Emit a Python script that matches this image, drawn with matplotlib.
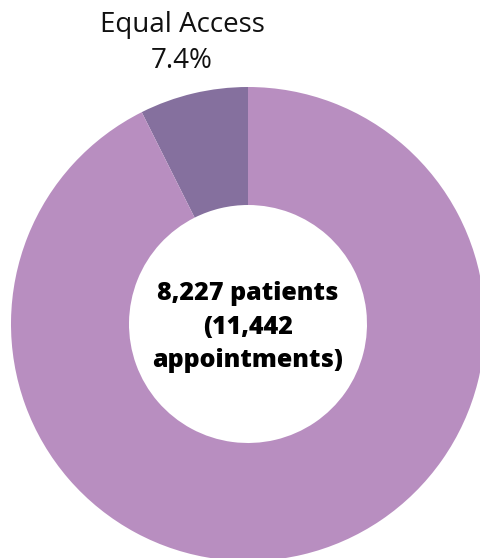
import matplotlib.pyplot as plt

labels = ["Equal Access", "Other"]
shares = [7.4, 92.6]
colors = ["#85709e", "#b88ec0"]
center_lines = ["8,227 patients", "(11,442", "appointments)"]

fig = plt.figure(figsize=(4.8, 5.58), dpi=100)
ax = fig.add_axes([0, 0, 1, 1])

cx, cy = 248, 558 - 324
outer = 237
ax.pie(shares, colors=colors, startangle=90, counterclock=True,
       center=(cx, cy), radius=outer,
       wedgeprops=dict(width=outer - 119, linewidth=0))
ax.set_xlim(0, 480)
ax.set_ylim(0, 558)
ax.set_aspect("equal")
ax.axis("off")

ax.text(182, 558 - 25, labels[0], ha="center", va="center",
        fontsize=20, family="Open Sans", fontweight="medium", color="#111111")
ax.text(182, 558 - 61, f"{shares[0]}%", ha="center", va="center",
        fontsize=20, family="Open Sans", fontweight="medium", color="#111111")

ax.text(cx, cy - 3, "\n".join(center_lines), ha="center", va="center",
        fontsize=18, family="Open Sans", fontweight="heavy",
        linespacing=1.45, color="black")

fig.savefig("out.png", dpi=100)
